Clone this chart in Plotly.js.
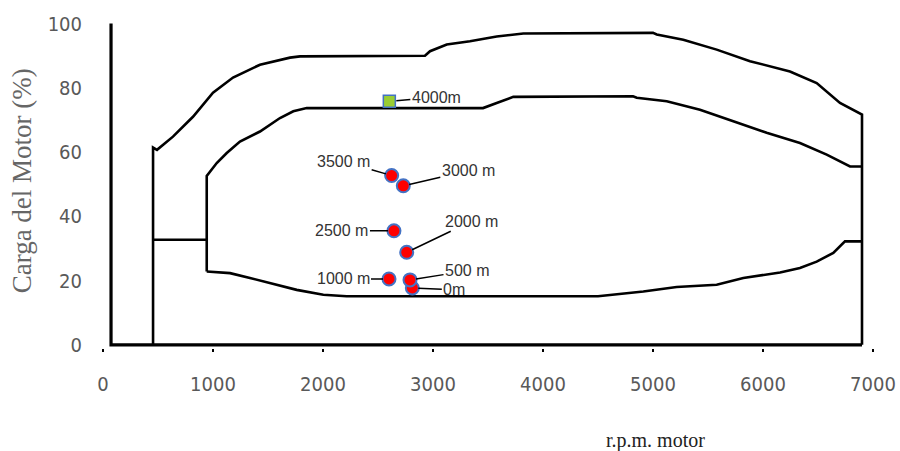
<!DOCTYPE html>
<html>
<head>
<meta charset="utf-8">
<script src="https://cdn.plot.ly/plotly-3.0.1.min.js"></script>
<style>html,body{margin:0;padding:0;background:#fff;}#chart{width:900px;height:451px;}</style>
</head>
<body>
<div id="chart"></div>
<script>
// ---- data (rpm, load %) ----
var frameRpm  = [73, 73, 6900];
var frameLoad = [100, 0, 0];

var outerRpm  = [455, 455, 491, 636, 818, 1000, 1182, 1427, 1700, 1791, 2927, 2973, 3125, 3336, 3579, 3821, 5000, 5034, 5275, 5579, 5882, 6245, 6488, 6700, 6900, 6900];
var outerLoad = [0, 61.4, 60.7, 64.8, 71.0, 78.5, 83.2, 87.2, 89.4, 89.8, 90.0, 91.4, 93.5, 94.5, 96.0, 96.9, 97.1, 96.6, 95.0, 91.9, 88.3, 85.1, 81.5, 75.3, 71.7, 0];

var linkRpm  = [455, 943];
var linkLoad = [32.7, 32.7];

var innerUpperRpm  = [943, 943, 1034, 1125, 1245, 1427, 1609, 1730, 1852, 3455, 3579, 3730, 4818, 4852, 5125, 5427, 5730, 6033, 6336, 6579, 6791, 6900];
var innerUpperLoad = [22.8, 52.6, 56.6, 59.7, 63.3, 66.4, 70.6, 72.7, 73.7, 73.7, 75.3, 77.2, 77.4, 76.9, 75.8, 73.2, 69.6, 66.0, 62.8, 59.2, 55.5, 55.5];

var innerLowerRpm  = [943, 1155, 1336, 1579, 1761, 2003, 2215, 4500, 4912, 5215, 5579, 5821, 6155, 6336, 6488, 6639, 6745, 6900];
var innerLowerLoad = [22.8, 22.3, 20.8, 18.7, 17.1, 15.6, 15.1, 15.1, 16.6, 18.0, 18.7, 20.8, 22.5, 23.9, 25.9, 28.6, 32.2, 32.2];

var altitudes  = ["0m", "500 m", "1000 m", "2000 m", "2500 m", "3000 m", "3500 m"];
var pointRpm   = [2812, 2791, 2600, 2761, 2645, 2730, 2624];
var pointLoad  = [17.7, 20.2, 20.5, 28.8, 35.5, 49.5, 52.7];

var top4000Label = "4000m";
var top4000Rpm   = [2603];
var top4000Load  = [75.8];

var xTicks = [0, 1000, 2000, 3000, 4000, 5000, 6000, 7000];
var yTicks = [0, 20, 40, 60, 80, 100];

// label offsets (pixels, text centre relative to point)
var labelDx = [42, 57, -46, 65, -52, 65, -48];
var labelDy = [2, -9, 0, -31, 0, -15, -14];

var lineStyle = {color: '#000', width: 2.6};
var traces = [
  {x: frameRpm, y: frameLoad, mode: 'lines', line: {color: '#000', width: 3.2}, hoverinfo: 'skip'},
  {x: outerRpm, y: outerLoad, mode: 'lines', line: lineStyle, hoverinfo: 'skip'},
  {x: linkRpm, y: linkLoad, mode: 'lines', line: lineStyle, hoverinfo: 'skip'},
  {x: innerUpperRpm, y: innerUpperLoad, mode: 'lines', line: lineStyle, hoverinfo: 'skip'},
  {x: innerLowerRpm, y: innerLowerLoad, mode: 'lines', line: lineStyle, hoverinfo: 'skip'},
  {x: pointRpm, y: pointLoad, mode: 'markers', text: altitudes,
   marker: {symbol: 'circle', size: 13, color: '#ff0000', line: {color: '#4472c4', width: 2}}},
  {x: top4000Rpm, y: top4000Load, mode: 'markers', text: [top4000Label],
   marker: {symbol: 'square', size: 12, color: '#9acd32', line: {color: '#4472c4', width: 1.5}}}
];

var annFont = {family: 'Liberation Sans, Arial, sans-serif', size: 16, color: '#333'};
var annotations = altitudes.map(function (t, i) {
  return {x: pointRpm[i], y: pointLoad[i], xref: 'x', yref: 'y', text: t,
    showarrow: true, arrowhead: 0, arrowwidth: 1.5, arrowcolor: '#000',
    ax: labelDx[i], ay: labelDy[i], standoff: 6, font: annFont, borderpad: 1};
});
annotations.push({x: top4000Rpm[0], y: top4000Load[0], xref: 'x', yref: 'y', text: top4000Label,
  showarrow: true, arrowhead: 0, arrowwidth: 1.5, arrowcolor: '#000',
  ax: 47, ay: -4, standoff: 7, font: annFont, borderpad: 1});
annotations.push({xref: 'paper', yref: 'paper', x: 0.717, y: -0.285, xanchor: 'center', yanchor: 'middle',
  showarrow: false, text: 'r.p.m. motor',
  font: {family: 'Liberation Serif, Times New Roman, serif', size: 20, color: '#222'}});
annotations.push({xref: 'paper', yref: 'paper', x: -0.104, y: 0.514, xanchor: 'center', yanchor: 'middle',
  showarrow: false, textangle: -90, text: 'Carga del Motor (%)',
  font: {family: 'Liberation Serif, Times New Roman, serif', size: 27, color: '#666'}});

var tickFont = {family: 'Liberation Sans Narrow, DejaVu Sans Condensed, Arial Narrow, sans-serif', size: 20, color: '#595959'};

var layout = {
  width: 900, height: 451,
  margin: {l: 103, r: 27, t: 22, b: 103},
  paper_bgcolor: '#fff', plot_bgcolor: '#fff',
  showlegend: false,
  xaxis: {range: [0, 7000], tickvals: xTicks, ticktext: xTicks.map(String), ticks: 'outside', ticklen: 3, tickwidth: 2,
    tickcolor: '#000', showgrid: false, zeroline: false, showline: false, tickfont: tickFont, ticklabelstandoff: 15},
  yaxis: {range: [-1, 100.5], tickvals: yTicks, ticktext: yTicks.map(String), ticks: '', showgrid: false, zeroline: false,
    showline: false, tickfont: tickFont, ticklabelstandoff: 20},
  annotations: annotations
};

Plotly.newPlot('chart', traces, layout, {displayModeBar: false, staticPlot: true});
</script>
</body>
</html>
